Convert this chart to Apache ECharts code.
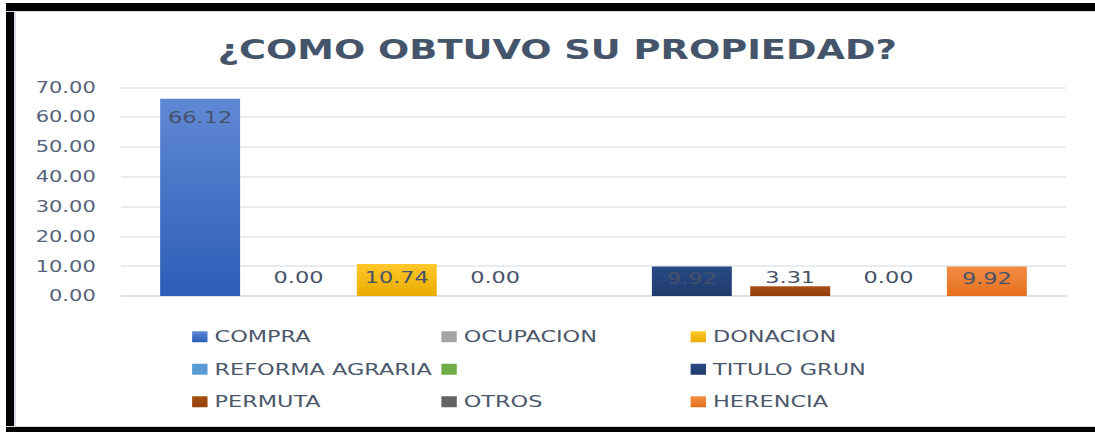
<!DOCTYPE html>
<html>
<head>
<meta charset="utf-8">
<script src="https://cdn.jsdelivr.net/npm/echarts@6/dist/echarts.min.js"></script>
<style>
  html, body { margin: 0; padding: 0; background: #fff; overflow: hidden; }
  .page { position: relative; width: 1095px; height: 432px; overflow: hidden; }
  /* the reference is a horizontally stretched screenshot: draw narrow, stretch */
  .chart { position: absolute; left: 0; top: 0; width: 782px; height: 432px;
           transform: scaleX(1.40026); transform-origin: 0 0; }
  /* black frame: left, top and bottom only */
  .bar { position: absolute; background: #000; pointer-events: none; }
  .bar.left { left: 6px; top: 3px; width: 8px; height: 429px; box-shadow: 2px 0 0 #d5dbe3; }
  .bar.top { left: 6px; top: 3px; width: 1089px; height: 8px; box-shadow: 0 1px 0 #d5dbe3; }
  .bar.bottom { left: 6px; top: 427px; width: 1089px; height: 5px; box-shadow: 0 -1px 0 #d5dbe3; }
</style>
</head>
<body>
<div class="page">
  <div class="chart" id="main"></div>
  <div class="bar left"></div>
  <div class="bar top"></div>
  <div class="bar bottom"></div>
</div>
<script>
  // 类目（只有一个）
  const categories = ['']
  // 图例 / 系列名称
  const seriesNames = ['COMPRA', 'OCUPACION', 'DONACION', 'REFORMA AGRARIA', ' ', 'TITULO GRUN', 'PERMUTA', 'OTROS', 'HERENCIA']
  // 各系列的值（百分比），空系列为 null
  const seriesValues = [66.12, 0, 10.74, 0, null, 9.92, 3.31, 0, 9.92]
  // Y 轴刻度
  const yMin = 0
  const yMax = 70
  const yStep = 10

  // 柱子颜色（上、下渐变）
  const colors = [
    ['#6088d4', '#2c5db7'],
    ['#a5a5a5', '#a5a5a5'],
    ['#ffc72a', '#e8ac00'],
    ['#5b9bd5', '#5b9bd5'],
    ['#70ad47', '#70ad47'],
    ['#2a4b86', '#1e3a6b'],
    ['#a84f14', '#923f0a'],
    ['#636363', '#636363'],
    ['#f18d46', '#e56f1d'],
  ]
  // 标签位置：大柱子放在内部顶端，小柱子放在上方
  const labelPos = [
    ['insideTop', 11],
    ['top', 10],
    ['insideTop', 6],
    ['top', 10],
    ['top', 10],
    ['insideTop', 4],
    ['top', 0],
    ['top', 10],
    ['insideTop', 4],
  ]

  const mChart = echarts.init(document.getElementById('main'), null, { renderer: 'svg' })

  const series = seriesNames.map((name, i) => ({
    name: name,
    type: 'bar',
    barWidth: 57.1,
    barGap: '23%',
    itemStyle: {
      color: new echarts.graphic.LinearGradient(0, 0, 0, 1, [
        { offset: 0, color: colors[i][0] },
        { offset: 1, color: colors[i][1] },
      ]),
    },
    label: {
      show: true,
      position: labelPos[i][0],
      distance: labelPos[i][1],
      color: '#46526a',
      fontFamily: 'DejaVu Sans',
      fontSize: 16,
      formatter: (p) => p.value.toFixed(2),
    },
    data: [seriesValues[i]],
  }))

  const options = {
    animation: false,
    // 标题
    title: {
      text: '¿COMO OBTUVO SU PROPIEDAD?',
      left: 393,
      top: 30,
      textAlign: 'center',
      textStyle: {
        color: '#44546a',
        fontFamily: 'DejaVu Sans',
        fontWeight: 'bold',
        fontSize: 26.3,
        lineHeight: 30,
      },
    },
    // 图例：三列
    legend: {
      data: seriesNames,
      left: 137.2,
      top: 322.5,
      width: 545,
      padding: 0,
      itemGap: 4,
      itemWidth: 11,
      itemHeight: 11,
      icon: 'rect',
      textStyle: {
        color: '#4b576b',
        fontFamily: 'DejaVu Sans',
        fontSize: 16,
        width: 158,
        lineHeight: 28.5,
      },
    },
    grid: {
      top: 87.3,
      bottom: 136,
      left: 86.4,
      right: 20.7,
      containLabel: false,
    },
    xAxis: {
      type: 'category',
      data: categories,
      axisTick: { show: false },
      axisLabel: { show: false },
      axisLine: { lineStyle: { color: '#dde1e6', width: 1.5 } },
    },
    yAxis: {
      type: 'value',
      min: yMin,
      max: yMax,
      interval: yStep,
      axisLine: { show: false },
      axisTick: { show: false },
      splitLine: { lineStyle: { color: '#e1e5ea', width: 1.5 } },
      axisLabel: {
        margin: 18,
        color: '#56627a',
        fontFamily: 'DejaVu Sans',
        fontSize: 15,
        formatter: (v) => v.toFixed(2),
      },
    },
    series: series,
  }

  mChart.setOption(options)
</script>
</body>
</html>
